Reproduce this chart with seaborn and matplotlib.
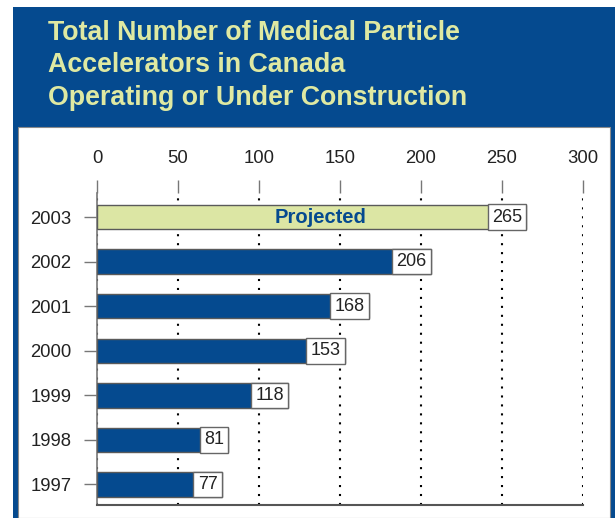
import matplotlib
matplotlib.use("Agg")
import matplotlib.pyplot as plt
from matplotlib.patches import Rectangle
import pandas as pd
import seaborn as sns

# data
years = ["2003", "2002", "2001", "2000", "1999", "1998", "1997"]
counts = [265, 206, 168, 153, 118, 81, 77]
projected_year = "2003"
x_ticks = [0, 50, 100, 150, 200, 250, 300]
title_lines = [
    "Total Number of Medical Particle",
    "Accelerators in Canada",
    "Operating or Under Construction",
]

BLUE = "#054a8f"
PALE = "#dce6a4"
TITLE_COL = "#dfe9a2"
W, H = 615, 518

sns.set_style("white")
plt.rcParams["font.family"] = ["Liberation Sans", "DejaVu Sans"]

df = pd.DataFrame({"year": years, "count": counts})
palette = {y: (PALE if y == projected_year else BLUE) for y in years}

fig = plt.figure(figsize=(W / 100, H / 100), dpi=100)

# blue frame with header, white inner panel (kept behind the axes)
fig.patches.append(Rectangle((13 / W, 0), (W - 13) / W, 1 - 7 / H,
                             transform=fig.transFigure, facecolor=BLUE,
                             edgecolor="none", zorder=-3))
fig.patches.append(Rectangle((18 / W, 0), (610 - 18) / W, 1 - 127 / H,
                             transform=fig.transFigure, facecolor="white",
                             edgecolor="#8a8a8a", linewidth=0.8, zorder=-2))

for i, line in enumerate(title_lines):
    fig.text(48 / W, 1 - (40 + i * 32.5) / H, line, color=TITLE_COL,
             fontsize=19.3, fontweight="bold", ha="left", va="baseline")

ax = fig.add_axes([97 / W, 1 - 505 / H, (583 - 97) / W, (505 - 193) / H])
ax.patch.set_alpha(0)

sns.barplot(data=df, x="count", y="year", hue="year", palette=palette,
            order=years, orient="h", width=0.55, edgecolor="#5a5a5a",
            linewidth=1.0, legend=False, saturation=1, ax=ax, zorder=3)

ax.set_xlim(0, 300)
ax.set_ylim(6.46, -0.54)
ax.set_xticks(x_ticks)
ax.xaxis.tick_top()
ax.set_xlabel("")
ax.set_ylabel("")
ax.tick_params(axis="x", direction="out", length=9.5, width=1, color="#777777",
               pad=9, labelsize=13.3, labelcolor="#222222")
ax.tick_params(axis="y", direction="out", length=9.5, width=1, color="#777777",
               pad=9, labelsize=13.3, labelcolor="#222222")
ax.tick_params(axis="x", bottom=False, top=True)
ax.tick_params(axis="y", left=True)

for s in ["top", "right"]:
    ax.spines[s].set_visible(False)
ax.spines["left"].set_color("#777777")
ax.spines["bottom"].set_color("#555555")
ax.spines["left"].set_linewidth(1.2)
ax.spines["bottom"].set_linewidth(1.5)

ax.grid(axis="x", color="black", linestyle=(0, (1, 3.3)), linewidth=1.5, zorder=0)
ax.grid(axis="y", visible=False)
ax.set_axisbelow(True)

# value boxes sitting at the end of each bar
for i, (y, c) in enumerate(zip(years, counts)):
    ax.text(c - 2.6, i, str(c), ha="right", va="center", fontsize=13,
            color="#222222", zorder=5,
            bbox=dict(boxstyle="square,pad=0.24", facecolor="white",
                      edgecolor="#666666", linewidth=1))

ax.text(138, years.index(projected_year), "Projected", ha="center", va="center",
        fontsize=14.5, fontweight="bold", color=BLUE, zorder=5)

fig.savefig("out.png", dpi=100)
